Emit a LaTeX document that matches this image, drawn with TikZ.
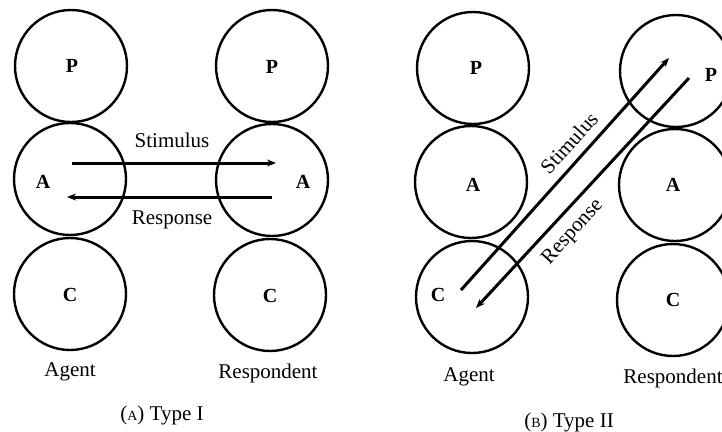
\documentclass[tikz,border=0pt]{standalone}
\usepackage{fontspec}
\setmainfont{Liberation Serif}
\usetikzlibrary{arrows.meta}
\newcommand{\mysc}[1]{{\fontsize{14}{16}\selectfont #1}}
\begin{document}
\begin{tikzpicture}[x=1pt,y=-1pt,
  ego/.style={circle,draw,line width=2.4pt,minimum size=112pt,inner sep=0pt},
  lbl/.style={font=\fontsize{20}{24}\selectfont\bfseries,inner sep=0pt},
  txt/.style={font=\fontsize{21}{24}\selectfont,inner sep=0pt},
  flow/.style={line width=3pt,-{Stealth[length=9pt,width=7pt]}}]
\useasboundingbox (0,0) rectangle (722,431);
\clip (0,0) rectangle (722,431);
% ---------- Type I ----------
\node[ego] (aP1) at (71,66) {};
\node[ego] (aA1) at (70,179) {};
\node[ego] (aC1) at (70,294) {};
\node[ego] (rP1) at (272,66) {};
\node[ego] (rA1) at (272,180) {};
\node[ego] (rC1) at (270,295) {};
\node[lbl] (taP1) at (72,66) {P};
\node[lbl] (taA1) at (43,182) {A};
\node[lbl] (taC1) at (70,295) {C};
\node[lbl] (trP1) at (272,67) {P};
\node[lbl] (trA1) at (303,182) {A};
\node[lbl] (trC1) at (270,296) {C};
\coordinate (s1a) at (72,163);
\coordinate (s1b) at (276,163);
\coordinate (r1a) at (272,197);
\coordinate (r1b) at (67,197);
\draw[flow] (s1a) -- (s1b);
\draw[flow] (r1a) -- (r1b);
\node[txt] (stim1) at (172,140) {Stimulus};
\node[txt] (resp1) at (172,220) {Response};
\node[txt] (ag1) at (70,372) {Agent};
\node[txt] (re1) at (268,373) {Respondent};
\node[txt] (cap1) at (162,415) {(\mysc{A}) Type I};
% ---------- Type II ----------
\node[ego] (aP2) at (473,68) {};
\node[ego] (aA2) at (471,182) {};
\node[ego] (aC2) at (472,297) {};
\node[ego] (rP2) at (676,71) {};
\node[ego] (rA2) at (675,185) {};
\node[ego] (rC2) at (673,300) {};
\node[lbl] (taP2) at (476,68) {P};
\node[lbl] (taA2) at (473,185) {A};
\node[lbl] (taC2) at (438,295) {C};
\node[lbl] (trP2) at (711,75) {P};
\node[lbl] (trA2) at (673,185) {A};
\node[lbl] (trC2) at (673,300) {C};
\coordinate (s2a) at (461,290);
\coordinate (s2b) at (669,58);
\coordinate (r2a) at (689,78);
\coordinate (r2b) at (476,308);
\draw[flow] (s2a) -- (s2b);
\draw[flow] (r2a) -- (r2b);
\node[txt,rotate=48] (stim2) at (569,143) {Stimulus};
\node[txt,rotate=48] (resp2) at (573,232) {Response};
\node[txt] (ag2) at (469,377) {Agent};
\node[txt] (re2) at (673,378) {Respondent};
\node[txt] (cap2) at (569,422) {(\mysc{B}) Type II};
\end{tikzpicture}
\end{document}
